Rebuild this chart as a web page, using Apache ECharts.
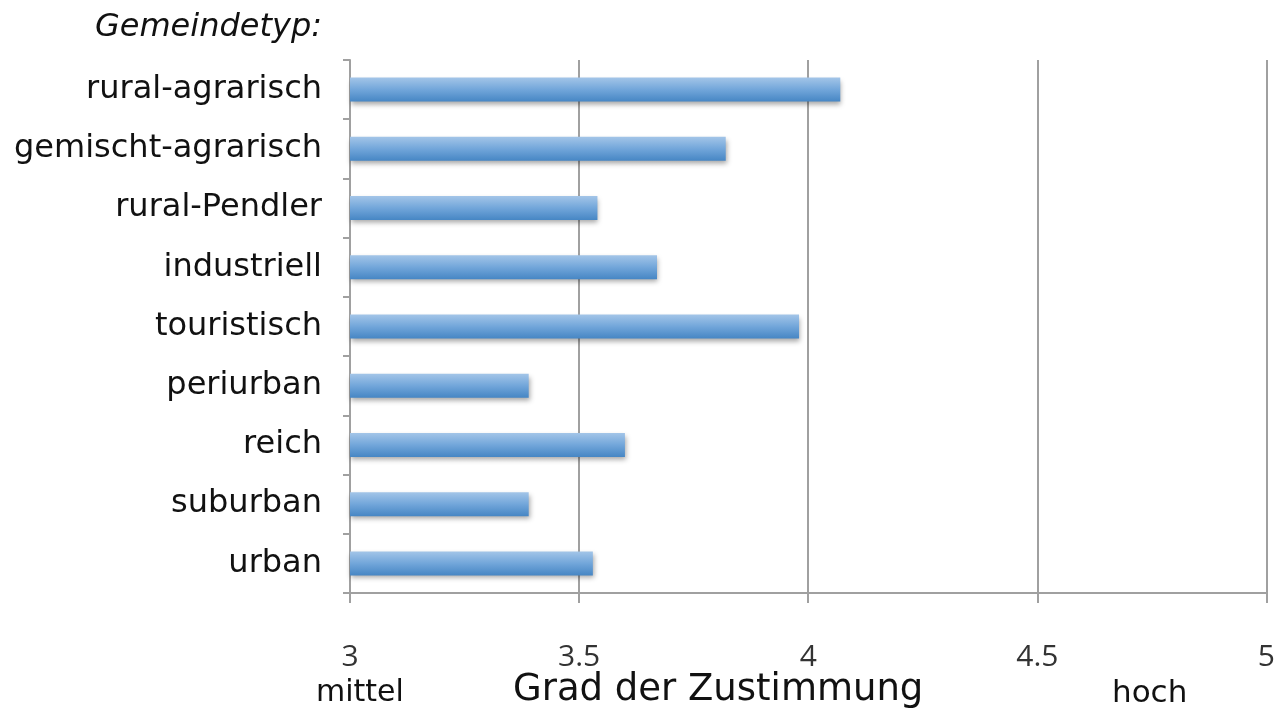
<!DOCTYPE html>
<html>
<head>
<meta charset="utf-8">
<script src="https://cdn.jsdelivr.net/npm/echarts@6/dist/echarts.min.js"></script>
<style>
html,body{margin:0;padding:0;background:#fff;}
#c{width:1278px;height:713px;}
</style>
</head>
<body>
<div id="c"></div>
<script>
const categories = ["rural-agrarisch","gemischt-agrarisch","rural-Pendler","industriell","touristisch","periurban","reich","suburban","urban"];
const values = [4.07, 3.82, 3.54, 3.67, 3.98, 3.39, 3.60, 3.39, 3.53];
const xTicks = [3, 3.5, 4, 4.5, 5];

const chart = echarts.init(document.getElementById('c'));
const font = "DejaVu Sans";
chart.setOption({
  animation: false,
  backgroundColor: '#fff',
  grid: {left: 350, right: 8, top: 60, bottom: 120, containLabel: false},
  xAxis: {
    type: 'value', min: 3, max: 5, interval: 0.5,
    axisLine: {show: true, lineStyle: {color: '#a0a0a0', width: 2}},
    axisTick: {show: true, length: 10, lineStyle: {color: '#a0a0a0', width: 2}},
    splitLine: {show: true, lineStyle: {color: '#a0a0a0', width: 2}},
    axisLabel: {
      margin: 49, fontSize: 30, color: '#333', fontFamily: 'Open Sans',
      formatter: v => xTicks.includes(v) ? String(v) : ''
    }
  },
  yAxis: {
    type: 'category', data: categories, inverse: true,
    axisLine: {show: true, lineStyle: {color: '#a0a0a0', width: 2}},
    axisTick: {show: true, length: 7, lineStyle: {color: '#a0a0a0', width: 2}},
    axisLabel: {margin: 28, fontSize: 32, color: '#111', fontFamily: font}
  },
  series: [{
    type: 'bar', data: values, barWidth: 24,
    itemStyle: {
      color: new echarts.graphic.LinearGradient(0, 0, 0, 1, [
        {offset: 0, color: '#a3c5e8'},
        {offset: 0.5, color: '#72a6da'},
        {offset: 1, color: '#4686c4'}
      ]),
      shadowColor: 'rgba(0,0,0,0.35)', shadowBlur: 5, shadowOffsetY: 3, shadowOffsetX: 1
    }
  }],
  graphic: [
    {type: 'text', right: 1278 - 322, top: 12, style: {text: 'Gemeindetyp:', fontSize: 32, fontStyle: 'italic', fontFamily: font, fill: '#111', textAlign: 'right'}},
    {type: 'text', left: 316, top: 678, style: {text: 'mittel', fontSize: 30, fontFamily: font, fill: '#111'}},
    {type: 'text', left: 513, top: 672, style: {text: 'Grad der Zustimmung', fontSize: 37, fontFamily: font, fill: '#111'}},
    {type: 'text', left: 1112, top: 678, style: {text: 'hoch', fontSize: 31, fontFamily: font, fill: '#111'}}
  ]
});
</script>
</body>
</html>
